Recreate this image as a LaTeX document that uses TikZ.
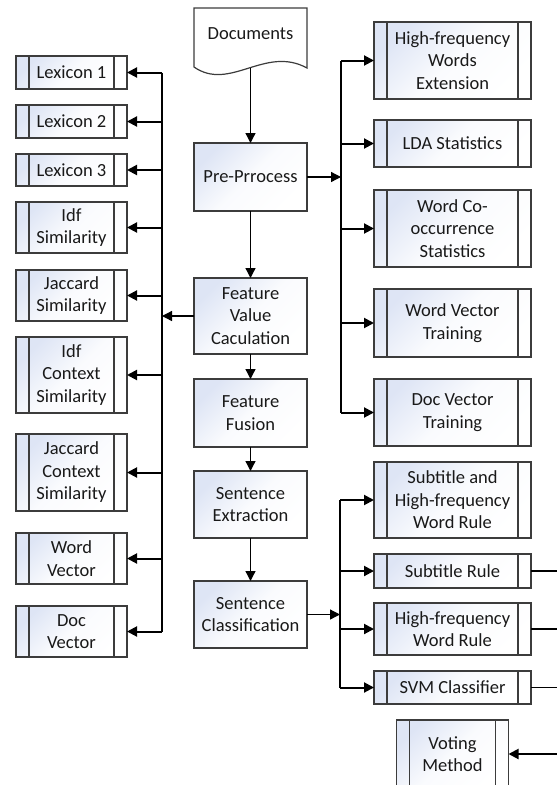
\documentclass[tikz,border=0pt]{standalone}
\usepackage{fontspec}
\setmainfont{Carlito}
\usetikzlibrary{arrows.meta,positioning}

\definecolor{boxfill}{RGB}{222,229,245}
\definecolor{boxline}{RGB}{60,60,60}
\definecolor{txt}{RGB}{25,25,25}

\begin{document}
\begin{tikzpicture}[x=1pt,y=-1pt,>={Triangle[length=10pt,width=10pt]},
		font=\fontsize{18.5}{22.5}\selectfont,text=txt]
		\tikzstyle{proc}=[draw=boxline,line width=1.2pt,outer sep=0pt,align=center,inner sep=0pt,
			top color=boxfill,bottom color=white,middle color=boxfill!15!white,shading angle=45]
		\tikzstyle{sub}=[proc,path picture={
			\draw[boxline,line width=1.2pt]
			([xshift=13pt]path picture bounding box.north west) -- ([xshift=13pt]path picture bounding box.south west)
			([xshift=-13pt]path picture bounding box.north east) -- ([xshift=-13pt]path picture bounding box.south east);}]
		\tikzstyle{lbox}=[sub,minimum width=111pt]
		\tikzstyle{rbox}=[sub,minimum width=157pt]
		\tikzstyle{mbox}=[proc,minimum width=113pt]
		\tikzstyle{flow}=[->,line width=1.3pt]
		\tikzstyle{bus}=[line width=2pt]
		\tikzstyle{branch}=[->,line width=2pt]
		
		\clip (0,0) rectangle (557,785);
		
		% middle column
		\node[minimum width=113pt,minimum height=52pt,inner sep=0pt,outer sep=0pt] (doc) at (250.5,34) {Documents};
		\draw[boxline,line width=1.2pt] (doc.north west) -- (doc.north east) -- ([yshift=-8pt]doc.south east)
		.. controls ([xshift=-42pt,yshift=15pt]doc.south east) and ([xshift=-77pt,yshift=-32pt]doc.south east)
		.. ([yshift=-7pt]doc.south west) -- cycle;
		\node[mbox,minimum height=68pt] (pre) [below=83pt of doc] {Pre-Prrocess};
		\node[mbox,minimum height=76pt] (fvc) [below=67pt of pre] {Feature\\Value\\Caculation};
		\node[mbox,minimum height=68pt] (ff) [below=25pt of fvc] {Feature\\Fusion};
		\node[mbox,minimum height=67pt] (se) [below=24pt of ff] {Sentence\\Extraction};
		\node[mbox,minimum height=67pt] (sc) [below=43pt of se] {Sentence\\Classification};
		
		% left column
		\node[lbox,minimum height=33pt] (lex1) at (71.5,72.5) {Lexicon 1};
		\node[lbox,minimum height=33pt] (lex2) [below=16pt of lex1] {Lexicon 2};
		\node[lbox,minimum height=32pt] (lex3) [below=16pt of lex2] {Lexicon 3};
		\node[lbox,minimum height=51pt] (idfs) [below=16pt of lex3] {Idf\\Similarity};
		\node[lbox,minimum height=51pt] (jacs) [below=17pt of idfs] {Jaccard\\Similarity};
		\node[lbox,minimum height=76pt] (idfc) [below=16pt of jacs] {Idf\\Context\\Similarity};
		\node[lbox,minimum height=77pt] (jacc) [below=21pt of idfc] {Jaccard\\Context\\Similarity};
		\node[lbox,minimum height=51pt] (wvec) [below=22pt of jacc] {Word\\Vector};
		\node[lbox,minimum height=51pt] (dvec) [below=22pt of wvec] {Doc\\Vector};
		
		% right column
		\node[rbox,minimum height=77pt] (hfwe) at (452.5,60.5) {High-frequency\\Words\\Extension};
		\node[rbox,minimum height=47pt] (lda) [below=21pt of hfwe] {LDA Statistics};
		\node[rbox,minimum height=77pt] (wcs) [below=23pt of lda] {Word Co-\\occurrence\\Statistics};
		\node[rbox,minimum height=68pt] (wvt) [below=22pt of wcs] {Word Vector\\Training};
		\node[rbox,minimum height=67pt] (dvt) [below=22pt of wvt] {Doc Vector\\Training};
		\node[rbox,minimum height=76pt] (shr) [below=16pt of dvt] {Subtitle and\\High-frequency\\Word Rule};
		\node[rbox,minimum height=34pt] (sr) [below=16pt of shr] {Subtitle Rule};
		\node[rbox,minimum height=52pt] (hr) [below=15pt of sr] {High-frequency\\Word Rule};
		\node[rbox,minimum height=33pt] (svm) [below=16pt of hr] {SVM Classifier};
		\node[sub,minimum width=112pt,minimum height=68pt] (vote) [below=16pt of svm] {Voting\\Method};
		
		\coordinate (lbus) at (162,0);
		\coordinate (rbus) at (341,0);
		\coordinate (cbus) at (340,0);
		\coordinate (obus) at (565,0);
		
		\path[flow] (doc.south) ++(0,8) edge (pre.north)
		(pre) edge (fvc)
		(fvc) edge (ff)
		(ff) edge (se)
		(se) edge (sc);
		
		% feature bus
		\draw[flow] (fvc.west) -- (fvc.west -| lbus);
		\draw[bus] (lex1.east -| lbus) -- (dvec.east -| lbus);
		\foreach \n in {lex1,lex2,lex3,idfs,jacs,idfc,jacc,wvec,dvec}
		\draw[branch] (\n.east -| lbus) -- (\n.east);
		
		% resource bus
		\draw[flow] (pre.east) -- (pre.east -| rbus);
		\draw[bus] (hfwe.west -| rbus) -- (dvt.west -| rbus);
		\foreach \n in {hfwe,lda,wcs,wvt,dvt}
		\draw[branch] (\n.west -| rbus) -- (\n.west);
		
		% classifier bus
		\draw[flow] (sc.east) -- (sc.east -| cbus);
		\draw[bus] (shr.west -| cbus) -- (svm.west -| cbus);
		\foreach \n in {shr,sr,hr,svm}
		\draw[branch] (\n.west -| cbus) -- (\n.west);
		
		\foreach \n in {sr,hr,svm}
		\draw[line width=1.2pt] (\n.east) -- (\n.east -| obus);
		\draw[branch] (vote.east -| obus) -- (vote.east);
	\end{tikzpicture}
\end{document}
